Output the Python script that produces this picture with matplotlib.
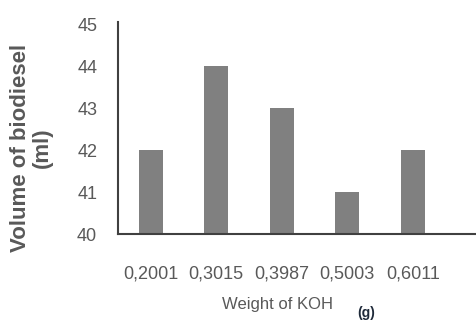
import matplotlib
matplotlib.use("Agg")
import matplotlib.pyplot as plt
import numpy as np

# data
weights = ["0,2001", "0,3015", "0,3987", "0,5003", "0,6011"]
volumes = [42, 44, 43, 41, 42]
yticks = [40, 41, 42, 43, 44, 45]

sans = ["Liberation Sans", "DejaVu Sans"]
text_col = "#595959"

fig = plt.figure(figsize=(4.77, 3.23), dpi=100)
ax = fig.add_axes([118 / 477, 1 - 234 / 323, (475 - 118) / 477, (234 - 22) / 323])

x = np.arange(len(weights))
ax.bar(x, volumes, width=0.37, color="#808080", zorder=2)

ax.set_xlim(-0.5, 4.95)
ax.set_ylim(40, 45.05)
ax.set_xticks(x)
ax.set_xticklabels(weights, family=sans, fontsize=13, color=text_col)
ax.set_yticks(yticks)
ax.set_yticklabels([str(t) for t in yticks], family=sans, fontsize=13, color=text_col)
ax.tick_params(axis="both", length=0)
ax.tick_params(axis="x", pad=23)
ax.tick_params(axis="y", pad=15)

for side in ["top", "right"]:
    ax.spines[side].set_visible(False)
for side in ["left", "bottom"]:
    ax.spines[side].set_color("#404040")
    ax.spines[side].set_linewidth(1.5)

# axis titles
fig.text(21 / 477, 1 - 148 / 323, "Volume of biodiesel", rotation=90,
         ha="center", va="center", fontsize=16, fontweight="bold",
         family=sans, color=text_col)
fig.text(42 / 477, 1 - 148 / 323, "(ml)", rotation=90,
         ha="center", va="center", fontsize=16, fontweight="bold",
         family=sans, color=text_col)
fig.text(277 / 477, 1 - 305 / 323, "Weight of KOH", ha="center", va="center",
         fontsize=12, family=sans, color=text_col)
fig.text(366 / 477, 1 - 313 / 323, "(g)", ha="center", va="center",
         fontsize=10, fontweight="bold", family=sans, color="#1f2a3a")

fig.savefig("out.png", dpi=100)
